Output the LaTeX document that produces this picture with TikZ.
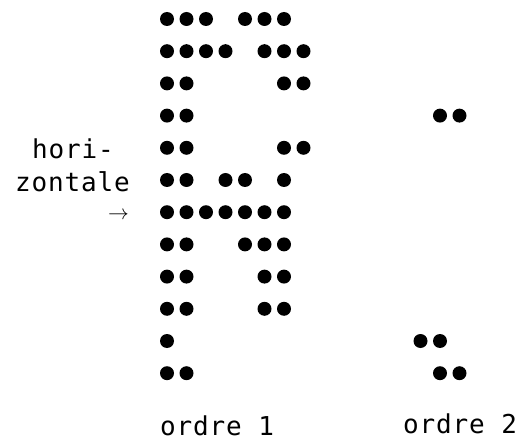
\documentclass[tikz,border=0pt]{standalone}
\usepackage{fontspec}
\setmonofont{DejaVu Sans Mono}[LetterSpace=3.3]
\usepackage{tikz}
\usetikzlibrary{positioning}

\tikzset{lbl/.style={font=\ttfamily\fontsize{26}{30}\selectfont,inner sep=0pt}}

\begin{document}
\begin{tikzpicture}[x=1pt,y=-1pt]
  \useasboundingbox (0,0) rectangle (523,444);
  % ordre 1 : grid of dots, row r at 19+32.2*r, column c at 167+19.5*c
  \foreach \r/\cols in {0/{0,1,2,4,5,6}, 1/{0,1,2,3,5,6,7}, 2/{0,1,6,7}, 3/{0,1},
                        4/{0,1,6,7}, 5/{0,1,3,4,6}, 6/{0,1,2,3,4,5,6}, 7/{0,1,4,5,6},
                        8/{0,1,5,6}, 9/{0,1,5,6}, 10/{0}, 11/{0,1}}
    \foreach \c in \cols
      \fill (167+19.5*\c, 19+32.2*\r) circle (7pt);
  % ordre 2
  \foreach \r/\cols in {3/{14,15}, 10/{13,14}, 11/{14,15}}
    \foreach \c in \cols
      \fill (167+19.5*\c, 19+32.2*\r) circle (7pt);
  % labels
  \node[lbl,anchor=base west] (hori) at (32,158) {hori-};
  \node[lbl,anchor=base west] (zontale) at (15,192) {zontale};
  \node[inner sep=0pt,font=\fontsize{20}{22}\selectfont,anchor=base] (arrow) at (118.5,219) {$\rightarrow$};
  \node[lbl,anchor=base west] (ordre1) at (160,435) {ordre 1};
  \node[lbl,anchor=base west] (ordre2) at (403,433) {ordre 2};
\end{tikzpicture}
\end{document}
